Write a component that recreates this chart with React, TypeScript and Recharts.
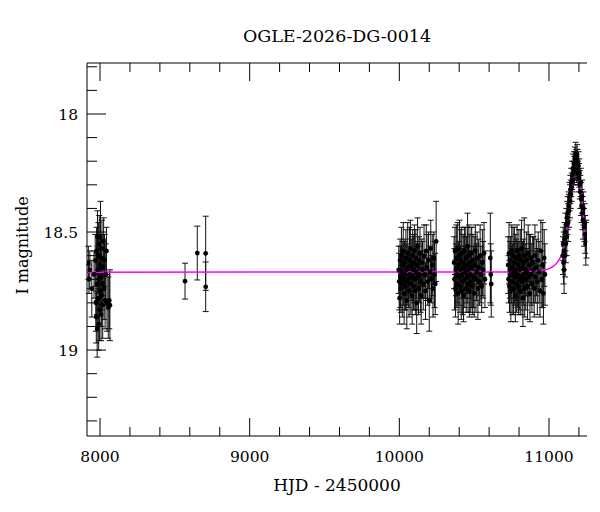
import { ComposedChart, ErrorBar, Label, Line, Scatter, XAxis, YAxis } from "recharts";

const FONT = "'DejaVu Serif', 'Liberation Serif', serif";

// [HJD - 2450000, I mag, error]
const season1: number[][] = [
  [7922, 18.63, 0.07], [7926, 18.7, 0.06], [7932, 18.66, 0.08], [7945, 18.74, 0.12],
  [7960, 18.68, 0.1], [7968, 18.62, 0.11], [7972, 18.8, 0.12], [7975, 18.86, 0.11],
  [7977, 18.58, 0.1], [7979, 18.72, 0.13], [7981, 18.91, 0.12], [7983, 18.52, 0.11],
  [7985, 18.66, 0.1], [7987, 18.78, 0.12], [7989, 18.6, 0.14], [7991, 18.89, 0.11],
  [7993, 18.7, 0.1], [7995, 18.55, 0.12], [7997, 18.83, 0.13], [7999, 18.64, 0.11],
  [8001, 18.75, 0.1], [8003, 18.52, 0.15], [8005, 18.69, 0.12], [8007, 18.85, 0.11],
  [8009, 18.61, 0.1], [8011, 18.77, 0.13], [8013, 18.57, 0.12], [8015, 18.72, 0.11],
  [8018, 18.81, 0.14], [8021, 18.65, 0.12], [8024, 18.54, 0.1], [8027, 18.74, 0.13],
  [8030, 18.62, 0.11], [8034, 18.79, 0.12], [8038, 18.68, 0.13], [8043, 18.58, 0.1],
  [8047, 18.8, 0.12], [8055, 18.82, 0.13], [8062, 18.79, 0.12], [8066, 18.81, 0.15],
];

const sparse: number[][] = [
  [8568, 18.708, 0.076], [8650, 18.589, 0.114], [8706, 18.59, 0.157], [8706, 18.732, 0.105],
];

const season2: number[][] = [
  [9996, 18.66, 0.1], [9999, 18.71, 0.12], [10002, 18.78, 0.11], [10005, 18.62, 0.09],
  [10008, 18.69, 0.13], [10011, 18.74, 0.1], [10014, 18.6, 0.12], [10017, 18.67, 0.11],
  [10020, 18.72, 0.14], [10023, 18.64, 0.1], [10026, 18.58, 0.12], [10029, 18.7, 0.11],
  [10032, 18.76, 0.13], [10035, 18.63, 0.09], [10038, 18.68, 0.15], [10041, 18.73, 0.1],
  [10044, 18.61, 0.12], [10047, 18.66, 0.11], [10050, 18.79, 0.12], [10053, 18.71, 0.1],
  [10056, 18.59, 0.13], [10059, 18.65, 0.09], [10062, 18.7, 0.12], [10065, 18.75, 0.11],
  [10068, 18.62, 0.14], [10071, 18.68, 0.1], [10074, 18.57, 0.12], [10077, 18.72, 0.13],
  [10080, 18.64, 0.11], [10083, 18.69, 0.1], [10086, 18.77, 0.12], [10089, 18.6, 0.11],
  [10092, 18.66, 0.14], [10095, 18.73, 0.1], [10098, 18.63, 0.12], [10101, 18.58, 0.11],
  [10104, 18.7, 0.13], [10107, 18.75, 0.1], [10110, 18.61, 0.12], [10113, 18.67, 0.11],
  [10116, 18.8, 0.13], [10119, 18.64, 0.1], [10122, 18.56, 0.12], [10125, 18.69, 0.14],
  [10128, 18.74, 0.11], [10131, 18.62, 0.1], [10134, 18.68, 0.12], [10138, 18.59, 0.11],
  [10142, 18.71, 0.13], [10146, 18.77, 0.12], [10150, 18.63, 0.1], [10155, 18.66, 0.12],
  [10160, 18.72, 0.11], [10165, 18.6, 0.13], [10170, 18.68, 0.1], [10175, 18.75, 0.12],
  [10180, 18.58, 0.11], [10185, 18.65, 0.14], [10190, 18.71, 0.1], [10195, 18.62, 0.12],
  [10200, 18.79, 0.13], [10205, 18.67, 0.11], [10210, 18.57, 0.12], [10215, 18.7, 0.1],
  [10220, 18.64, 0.13], [10225, 18.74, 0.12], [10230, 18.61, 0.11], [10235, 18.68, 0.14],
  [10240, 18.72, 0.13], [10246, 18.54, 0.17],
];

const season3: number[][] = [
  [10366, 18.63, 0.11], [10369, 18.7, 0.13], [10372, 18.58, 0.1], [10375, 18.74, 0.12],
  [10378, 18.66, 0.11], [10381, 18.61, 0.14], [10384, 18.72, 0.1], [10387, 18.68, 0.12],
  [10390, 18.57, 0.11], [10393, 18.76, 0.13], [10396, 18.64, 0.1], [10399, 18.69, 0.12],
  [10402, 18.6, 0.15], [10405, 18.73, 0.11], [10408, 18.66, 0.1], [10411, 18.62, 0.13],
  [10414, 18.75, 0.12], [10417, 18.59, 0.11], [10420, 18.68, 0.1], [10423, 18.71, 0.14],
  [10426, 18.63, 0.12], [10429, 18.77, 0.11], [10432, 18.65, 0.13], [10435, 18.58, 0.1],
  [10438, 18.7, 0.12], [10441, 18.67, 0.11], [10444, 18.61, 0.13], [10447, 18.74, 0.1],
  [10450, 18.64, 0.12], [10453, 18.69, 0.11], [10456, 18.56, 0.14], [10459, 18.72, 0.12],
  [10462, 18.66, 0.1], [10465, 18.6, 0.13], [10468, 18.75, 0.11], [10471, 18.63, 0.12],
  [10474, 18.68, 0.1], [10477, 18.71, 0.13], [10480, 18.59, 0.11], [10484, 18.65, 0.17],
  [10488, 18.73, 0.12], [10492, 18.62, 0.11], [10496, 18.69, 0.13], [10500, 18.76, 0.1],
  [10504, 18.64, 0.12], [10508, 18.58, 0.11], [10512, 18.7, 0.14], [10516, 18.67, 0.12],
  [10520, 18.61, 0.11], [10525, 18.74, 0.13], [10530, 18.65, 0.12], [10535, 18.71, 0.1],
  [10540, 18.6, 0.13], [10545, 18.68, 0.12], [10550, 18.73, 0.11], [10555, 18.63, 0.14],
  [10560, 18.66, 0.12], [10566, 18.59, 0.13], [10572, 18.7, 0.12], [10608, 18.61, 0.19],
  [10611, 18.68, 0.13], [10614, 18.72, 0.14],
];

const season4: number[][] = [
  [10727, 18.64, 0.12], [10730, 18.7, 0.1], [10733, 18.59, 0.13], [10736, 18.73, 0.11],
  [10739, 18.66, 0.12], [10742, 18.62, 0.1], [10745, 18.75, 0.13], [10748, 18.68, 0.12],
  [10751, 18.58, 0.11], [10754, 18.71, 0.14], [10757, 18.65, 0.1], [10760, 18.6, 0.12],
  [10763, 18.74, 0.11], [10766, 18.67, 0.13], [10769, 18.63, 0.15], [10772, 18.69, 0.12],
  [10775, 18.77, 0.11], [10778, 18.61, 0.1], [10781, 18.66, 0.13], [10784, 18.72, 0.12],
  [10787, 18.58, 0.11], [10790, 18.68, 0.14], [10793, 18.64, 0.1], [10796, 18.73, 0.12],
  [10799, 18.6, 0.11], [10802, 18.7, 0.13], [10805, 18.66, 0.12], [10808, 18.75, 0.1],
  [10811, 18.62, 0.13], [10814, 18.69, 0.11], [10817, 18.57, 0.12], [10820, 18.71, 0.14],
  [10823, 18.65, 0.11], [10826, 18.78, 0.12], [10829, 18.63, 0.1], [10832, 18.68, 0.13],
  [10835, 18.6, 0.16], [10838, 18.74, 0.12], [10841, 18.66, 0.11], [10845, 18.7, 0.13],
  [10849, 18.62, 0.12], [10853, 18.67, 0.1], [10857, 18.73, 0.14], [10861, 18.59, 0.12],
  [10865, 18.69, 0.11], [10869, 18.64, 0.13], [10873, 18.76, 0.12], [10877, 18.61, 0.1],
  [10881, 18.68, 0.13], [10886, 18.72, 0.12], [10891, 18.63, 0.11], [10896, 18.66, 0.14],
  [10901, 18.74, 0.12], [10906, 18.6, 0.13], [10911, 18.69, 0.11], [10916, 18.65, 0.12],
  [10922, 18.71, 0.14], [10928, 18.62, 0.12], [10934, 18.67, 0.13], [10940, 18.75, 0.11],
  [10946, 18.58, 0.13], [10952, 18.7, 0.12], [10958, 18.64, 0.18], [10963, 18.76, 0.13],
  [10968, 18.61, 0.12], [10973, 18.68, 0.13],
];

const season5: number[][] = [
  [11093, 18.6, 0.08], [11095, 18.55, 0.07], [11097, 18.63, 0.09], [11099, 18.58, 0.08],
  [11101, 18.66, 0.1], [11104, 18.53, 0.07], [11107, 18.6, 0.09], [11110, 18.5, 0.08],
  [11113, 18.55, 0.08], [11116, 18.47, 0.07], [11119, 18.52, 0.08], [11122, 18.44, 0.07],
  [11125, 18.42, 0.07], [11128, 18.46, 0.08], [11131, 18.39, 0.06], [11134, 18.41, 0.07],
  [11137, 18.35, 0.06], [11140, 18.37, 0.07], [11143, 18.32, 0.06], [11146, 18.34, 0.06],
  [11149, 18.29, 0.06], [11152, 18.31, 0.06], [11155, 18.26, 0.06], [11158, 18.28, 0.05],
  [11161, 18.23, 0.06], [11164, 18.25, 0.05], [11167, 18.21, 0.05], [11170, 18.24, 0.06],
  [11173, 18.19, 0.05], [11176, 18.22, 0.06], [11179, 18.17, 0.05], [11182, 18.2, 0.05],
  [11185, 18.23, 0.06], [11188, 18.18, 0.05], [11191, 18.21, 0.06], [11194, 18.25, 0.05],
  [11197, 18.22, 0.06], [11200, 18.27, 0.06], [11203, 18.25, 0.06], [11206, 18.3, 0.06],
  [11209, 18.33, 0.07], [11212, 18.29, 0.06], [11215, 18.36, 0.07], [11218, 18.39, 0.07],
  [11221, 18.35, 0.07], [11224, 18.42, 0.07], [11227, 18.45, 0.08], [11230, 18.4, 0.07],
  [11234, 18.48, 0.08], [11238, 18.46, 0.08], [11242, 18.51, 0.08], [11246, 18.55, 0.09],
  [11250, 18.53, 0.08],
];

// PSPL model curve
const modelHjd = [
  7913, 10700, 10900, 10950, 11000, 11040, 11070, 11090, 11105, 11118, 11130, 11140,
  11150, 11160, 11170, 11178, 11185, 11192, 11200, 11210, 11218, 11226, 11234, 11244, 11254,
];
const modelMag = [
  18.67, 18.669, 18.666, 18.662, 18.655, 18.64, 18.615, 18.585, 18.55, 18.49, 18.43, 18.38,
  18.33, 18.285, 18.255, 18.241, 18.237, 18.242, 18.26, 18.3, 18.35, 18.41, 18.46, 18.52, 18.56,
];

const xTicks = [
  8000, 8200, 8400, 8600, 8800, 9000, 9200, 9400, 9600, 9800, 10000, 10200, 10400, 10600,
  10800, 11000, 11200,
];
const xMajor = [8000, 9000, 10000, 11000];
const yTicks = [
  17.8, 17.9, 18, 18.1, 18.2, 18.3, 18.4, 18.5, 18.6, 18.7, 18.8, 18.9, 19, 19.1, 19.2, 19.3,
];
const yMajor = [18, 18.5, 19];

const X_DOMAIN = [7913, 11254];
const Y_DOMAIN = [17.784, 19.364];

const obs = [...season1, ...sparse, ...season2, ...season3, ...season4, ...season5].map(
  ([hjd, mag, err]) => ({ hjd, mag, err })
);
const model = modelHjd.map((hjd, i) => ({ hjd, mag: modelMag[i] }));

const isMajorY = (v: number) => yMajor.some((m) => Math.abs(m - v) < 1e-6);

const BottomTick = (p: any) => {
  const major = xMajor.includes(p.payload.value);
  return (
    <g>
      <line x1={p.x} x2={p.x} y1={p.y} y2={p.y - (major ? 18 : 9)} stroke="#000" />
      {major && (
        <text x={p.x} y={p.y + 26} textAnchor="middle" fontFamily={FONT} fontSize={15.5} fill="#000">
          {p.payload.value}
        </text>
      )}
    </g>
  );
};

const TopTick = (p: any) => {
  const major = xMajor.includes(p.payload.value);
  return <line x1={p.x} x2={p.x} y1={p.y} y2={p.y + (major ? 18 : 9)} stroke="#000" />;
};

const LeftTick = (p: any) => {
  const major = isMajorY(p.payload.value);
  return (
    <g>
      <line x1={p.x} x2={p.x + (major ? 19 : 10)} y1={p.y} y2={p.y} stroke="#000" />
      {major && (
        <text x={p.x - 9} y={p.y} dy="0.36em" textAnchor="end" fontFamily={FONT} fontSize={15.5} fill="#000">
          {p.payload.value}
        </text>
      )}
    </g>
  );
};

const RightTick = (p: any) => {
  const major = isMajorY(p.payload.value);
  return <line x1={p.x} x2={p.x - (major ? 19 : 10)} y1={p.y} y2={p.y} stroke="#000" />;
};

const Dot = (p: any) => <circle cx={p.cx} cy={p.cy} r={2.4} fill="#000" />;

export default function App() {
  return (
    <div style={{ position: "absolute", left: 0, top: 0, width: 600, height: 512, background: "#fff" }}>
      <ComposedChart width={600} height={512} margin={{ top: 0, right: 13, bottom: 0, left: 0 }}>
        <XAxis
          xAxisId="b"
          dataKey="hjd"
          type="number"
          domain={X_DOMAIN}
          allowDataOverflow
          ticks={xTicks}
          interval={0}
          height={76}
          tickSize={0}
          tickMargin={0}
          tickLine={false}
          axisLine={{ stroke: "#000" }}
          tick={BottomTick}
        >
          <Label
            content={({ viewBox }: any) => (
              <text
                x={viewBox.x + viewBox.width / 2}
                y={viewBox.y + 55}
                textAnchor="middle"
                fontFamily={FONT}
                fontSize={17}
                fill="#000"
              >
                HJD - 2450000
              </text>
            )}
          />
        </XAxis>
        <XAxis
          xAxisId="t"
          orientation="top"
          dataKey="hjd"
          type="number"
          domain={X_DOMAIN}
          allowDataOverflow
          ticks={xTicks}
          interval={0}
          height={63}
          tickSize={0}
          tickMargin={0}
          tickLine={false}
          axisLine={{ stroke: "#000" }}
          tick={TopTick}
        >
          <Label
            content={({ viewBox }: any) => (
              <text
                x={viewBox.x + viewBox.width / 2}
                y={42}
                textAnchor="middle"
                fontFamily={FONT}
                fontSize={17.5}
                fill="#000"
              >
                OGLE-2026-DG-0014
              </text>
            )}
          />
        </XAxis>
        <YAxis
          yAxisId="l"
          dataKey="mag"
          type="number"
          reversed
          domain={Y_DOMAIN}
          allowDataOverflow
          ticks={yTicks}
          interval={0}
          width={87}
          tickSize={0}
          tickMargin={0}
          tickLine={false}
          axisLine={{ stroke: "#000" }}
          tick={LeftTick}
        >
          <Label
            content={({ viewBox }: any) => (
              <text
                x={28}
                y={viewBox.y + viewBox.height / 2 - 4}
                transform={`rotate(-90 28 ${viewBox.y + viewBox.height / 2 - 4})`}
                textAnchor="middle"
                fontFamily={FONT}
                fontSize={16}
                fill="#000"
              >
                I magnitude
              </text>
            )}
          />
        </YAxis>
        <YAxis
          yAxisId="r"
          orientation="right"
          dataKey="mag"
          type="number"
          reversed
          domain={Y_DOMAIN}
          allowDataOverflow
          ticks={yTicks}
          interval={0}
          width={0}
          tickSize={0}
          tickMargin={0}
          tickLine={false}
          axisLine={{ stroke: "#000" }}
          tick={RightTick}
        />
        <Scatter data={obs} xAxisId="b" yAxisId="l" shape={Dot} isAnimationActive={false}>
          <ErrorBar dataKey="err" direction="y" width={3} stroke="#111" strokeWidth={1} isAnimationActive={false} />
        </Scatter>
        <Line
          data={model}
          dataKey="mag"
          xAxisId="b"
          yAxisId="l"
          type="monotone"
          stroke="#ff00ff"
          strokeWidth={1.5}
          dot={false}
          activeDot={false}
          isAnimationActive={false}
        />
      </ComposedChart>
    </div>
  );
}
